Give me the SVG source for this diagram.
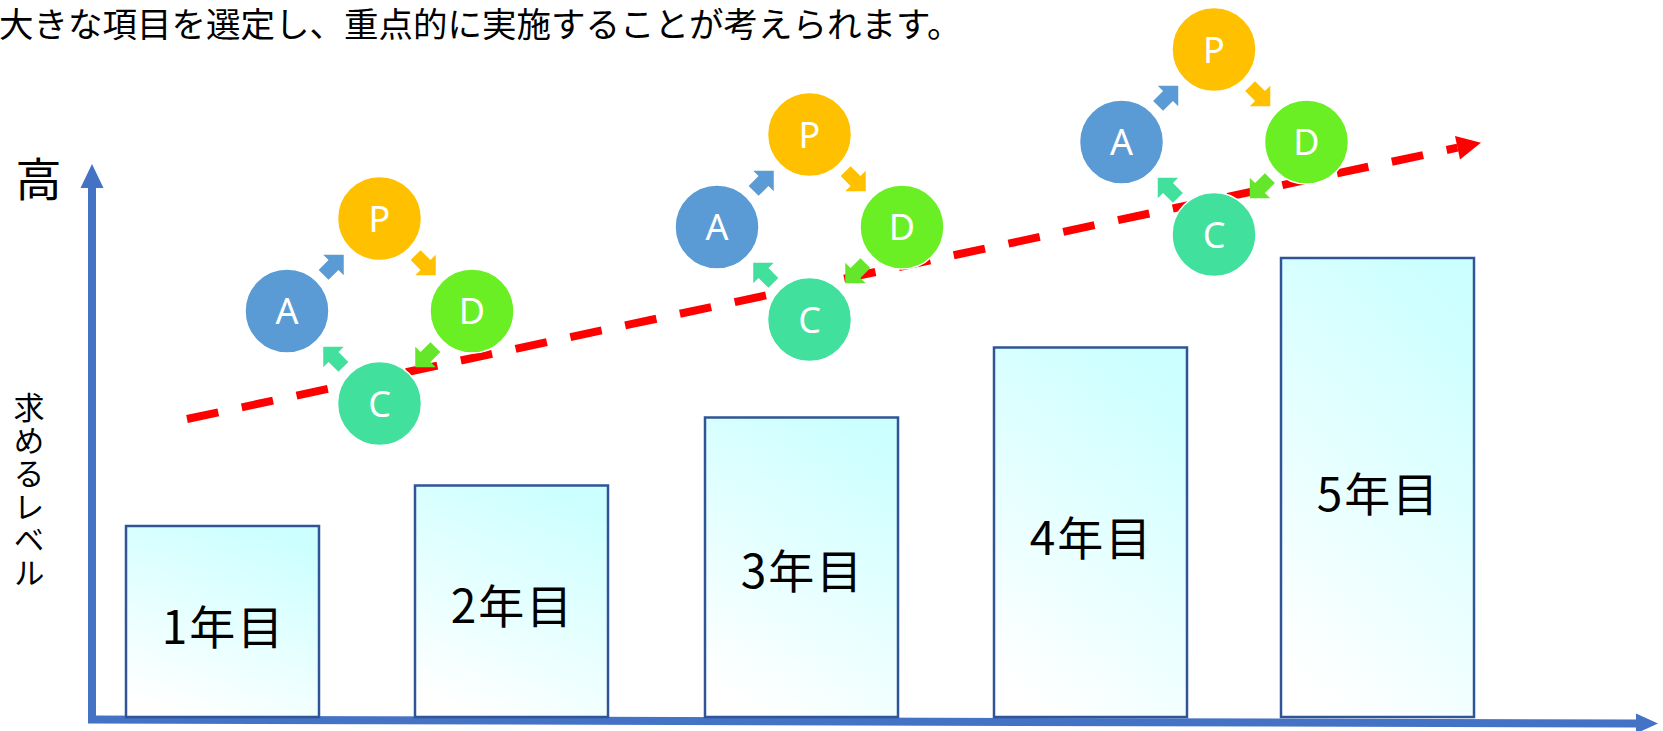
<svg xmlns="http://www.w3.org/2000/svg" xmlns:xlink="http://www.w3.org/1999/xlink" width="1663" height="731" viewBox="0 0 1663 731">
<defs>
<style>
.jp{font-family:"Noto Sans CJK JP","Noto Sans",sans-serif;fill:#000}
.bar{fill:url(#gb);stroke:#2F5597;stroke-width:2.5}
.axis{stroke:#4472C4;stroke-width:8;fill:none}
.lbl{font-size:46px;text-anchor:middle;letter-spacing:2px}
.ltr{font-family:"Noto Sans","Open Sans",sans-serif;font-size:36px;fill:#fff;text-anchor:middle}
.cir{stroke:#fff;stroke-width:1.5}
.cP{fill:#FFC000}.cA{fill:#5B9BD5}.cD{fill:#6AEF25}.cC{fill:#42E09D}
.aD{fill:#66E62A}
</style>
<linearGradient id="gb" x1="0.3" y1="1" x2="0.7" y2="0">
<stop offset="0" stop-color="#ffffff"/>
<stop offset="1" stop-color="#CCFFFF"/>
</linearGradient>
<marker id="hy" markerUnits="userSpaceOnUse" markerWidth="24" markerHeight="24" refX="0" refY="11.5" orient="auto" overflow="visible">
<path d="M0,0 L24,11.5 L0,23 Z" fill="#4472C4"/>
</marker>
<marker id="hx" markerUnits="userSpaceOnUse" markerWidth="22" markerHeight="20" refX="0" refY="10" orient="auto" overflow="visible">
<path d="M0,0 L22,10 L0,20 Z" fill="#4472C4"/>
</marker>
<marker id="hr" markerUnits="userSpaceOnUse" markerWidth="24" markerHeight="24" refX="0" refY="12" orient="auto" overflow="visible">
<path d="M0,0 L24,12 L0,24 Z" fill="#FF0000"/>
</marker>
<path id="ar" d="M-14,-7 H0 V-14.5 L14.5,0 L0,14.5 V7 H-14 Z"/>
</defs>
<rect width="1663" height="731" fill="#fff"/>

<g id="title">
<text class="jp" x="-1" y="37" font-size="34.5">大きな項目を選定し、重点的に実施することが考えられます。</text>
</g>

<g id="connectors">
<line class="axis" x1="88" y1="719.5" x2="1636" y2="723.5" marker-end="url(#hx)"/>
<line class="axis" x1="92" y1="723" x2="92" y2="188" marker-end="url(#hy)"/>
<path d="M187,419 L1457.5,147.7" stroke="#FF0000" stroke-width="8" stroke-dasharray="32 24" fill="none" marker-end="url(#hr)"/>
<g id="arrows1">
<use xlink:href="#ar" class="cA" transform="translate(333.5,265) rotate(-45)"/>
<use xlink:href="#ar" class="cP" transform="translate(425.5,265) rotate(45)"/>
<use xlink:href="#ar" class="aD" transform="translate(425.5,357) rotate(135)"/>
<use xlink:href="#ar" class="cC" transform="translate(333.5,357) rotate(-135)"/>
</g>
<g id="arrows2">
<use xlink:href="#ar" class="cA" transform="translate(763.5,181) rotate(-45)"/>
<use xlink:href="#ar" class="cP" transform="translate(855.5,181) rotate(45)"/>
<use xlink:href="#ar" class="aD" transform="translate(855.5,273) rotate(135)"/>
<use xlink:href="#ar" class="cC" transform="translate(763.5,273) rotate(-135)"/>
</g>
<g id="arrows3">
<use xlink:href="#ar" class="cA" transform="translate(1168,96) rotate(-45)"/>
<use xlink:href="#ar" class="cP" transform="translate(1260,96) rotate(45)"/>
<use xlink:href="#ar" class="aD" transform="translate(1260,188) rotate(135)"/>
<use xlink:href="#ar" class="cC" transform="translate(1168,188) rotate(-135)"/>
</g>
</g>

<g id="axis-labels">
<text class="jp" x="38.5" y="196" font-size="46" text-anchor="middle">高</text>
<text class="jp" x="29" y="392" font-size="31" letter-spacing="2" writing-mode="vertical-rl" style="writing-mode:vertical-rl">求めるレベル</text>
</g>

<g id="bar1"><rect class="bar" x="126" y="526" width="193" height="191"/><text class="jp lbl" x="223.5" y="643.5">1年目</text></g>
<g id="bar2"><rect class="bar" x="415" y="485.5" width="193" height="231.5"/><text class="jp lbl" x="512.5" y="622.5">2年目</text></g>
<g id="bar3"><rect class="bar" x="705" y="417.5" width="193" height="299.5"/><text class="jp lbl" x="802.5" y="587.5">3年目</text></g>
<g id="bar4"><rect class="bar" x="994" y="347.5" width="193" height="369.5"/><text class="jp lbl" x="1091.5" y="554.5">4年目</text></g>
<g id="bar5"><rect class="bar" x="1281" y="258" width="193" height="459"/><text class="jp lbl" x="1378.5" y="510.5">5年目</text></g>

<g id="cycle1" transform="translate(379.5,311)">
<g id="c1-P"><circle class="cir cP" cx="0" cy="-92.5" r="42"/><text class="ltr" x="0" y="-79.5">P</text></g>
<g id="c1-D"><circle class="cir cD" cx="92.5" cy="0" r="42"/><text class="ltr" x="92.5" y="13">D</text></g>
<g id="c1-C"><circle class="cir cC" cx="0" cy="92.5" r="42"/><text class="ltr" x="0" y="105.5">C</text></g>
<g id="c1-A"><circle class="cir cA" cx="-92.5" cy="0" r="42"/><text class="ltr" x="-92.5" y="13">A</text></g>
</g>
<g id="cycle2" transform="translate(809.5,227)">
<g id="c2-P"><circle class="cir cP" cx="0" cy="-92.5" r="42"/><text class="ltr" x="0" y="-79.5">P</text></g>
<g id="c2-D"><circle class="cir cD" cx="92.5" cy="0" r="42"/><text class="ltr" x="92.5" y="13">D</text></g>
<g id="c2-C"><circle class="cir cC" cx="0" cy="92.5" r="42"/><text class="ltr" x="0" y="105.5">C</text></g>
<g id="c2-A"><circle class="cir cA" cx="-92.5" cy="0" r="42"/><text class="ltr" x="-92.5" y="13">A</text></g>
</g>
<g id="cycle3" transform="translate(1214,142)">
<g id="c3-P"><circle class="cir cP" cx="0" cy="-92.5" r="42"/><text class="ltr" x="0" y="-79.5">P</text></g>
<g id="c3-D"><circle class="cir cD" cx="92.5" cy="0" r="42"/><text class="ltr" x="92.5" y="13">D</text></g>
<g id="c3-C"><circle class="cir cC" cx="0" cy="92.5" r="42"/><text class="ltr" x="0" y="105.5">C</text></g>
<g id="c3-A"><circle class="cir cA" cx="-92.5" cy="0" r="42"/><text class="ltr" x="-92.5" y="13">A</text></g>
</g>
</svg>
